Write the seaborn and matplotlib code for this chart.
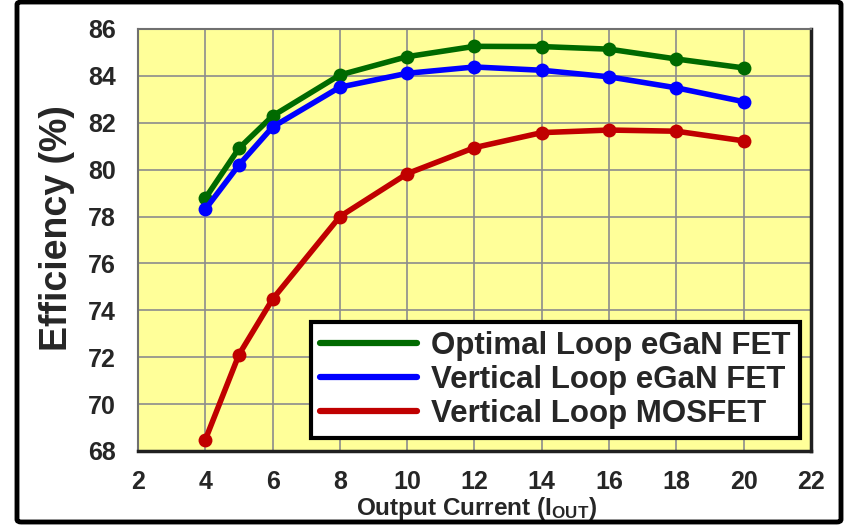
import numpy as np
import pandas as pd
import matplotlib
matplotlib.use("Agg")
import matplotlib.pyplot as plt
import seaborn as sns
from matplotlib.lines import Line2D
from matplotlib.patches import FancyBboxPatch

# ---- data ----
current = [4, 5, 6, 8, 10, 12, 14, 16, 18, 20]
optimal_egan = [78.78, 80.91, 82.29, 84.04, 84.82, 85.26, 85.25, 85.14, 84.72, 84.34]
vertical_egan = [78.31, 80.20, 81.82, 83.52, 84.11, 84.38, 84.24, 83.96, 83.49, 82.90]
vertical_mosfet = [68.48, 72.11, 74.48, 78.00, 79.83, 80.94, 81.58, 81.69, 81.64, 81.23]
series_names = ["Optimal Loop eGaN FET", "Vertical Loop eGaN FET", "Vertical Loop MOSFET"]
colors = ["#006A00", "#0000FF", "#C00000"]
x_ticks = [2, 4, 6, 8, 10, 12, 14, 16, 18, 20, 22]
y_ticks = [68, 70, 72, 74, 76, 78, 80, 82, 84, 86]

df = pd.DataFrame({
    "current": current * 3,
    "eff": optimal_egan + vertical_egan + vertical_mosfet,
    "series": [series_names[0]] * len(current) + [series_names[1]] * len(current)
              + [series_names[2]] * len(current),
})

sns.set_theme(style="white")
plt.rcParams["font.family"] = ["Liberation Sans", "DejaVu Sans"]
plt.rcParams["font.weight"] = "bold"
plt.rcParams["mathtext.fontset"] = "custom"
plt.rcParams["mathtext.rm"] = "Liberation Sans:bold"
plt.rcParams["mathtext.bf"] = "Liberation Sans:bold"
plt.rcParams["mathtext.it"] = "Liberation Sans:bold"

fig = plt.figure(figsize=(8.48, 5.26), dpi=100)
fig.patch.set_facecolor("white")
ax = fig.add_axes([138 / 848, 1 - 451 / 526, (811 - 138) / 848, (451 - 29) / 526])
ax.set_facecolor("#FFFF99")

sns.lineplot(data=df, x="current", y="eff", hue="series", palette=colors,
             hue_order=series_names, marker="o", markersize=10, markeredgewidth=0,
             linewidth=4, legend=False, ax=ax, zorder=3)

ax.set_xlim(2, 22)
ax.set_ylim(68, 86)
ax.set_xticks(x_ticks)
ax.set_yticks(y_ticks)
ax.grid(True, color="#8C8C8C", linewidth=1.2)
ax.set_axisbelow(True)
ax.tick_params(axis="y", length=0, labelsize=18, pad=16)
ax.tick_params(axis="x", length=0, labelsize=18, pad=14)
for lab in ax.get_xticklabels() + ax.get_yticklabels():
    lab.set_fontweight("bold")
ax.set_xlabel("")
ax.set_ylabel("")
for s in ["left", "top"]:
    ax.spines[s].set_color("#707070")
    ax.spines[s].set_linewidth(1.5)
for s in ["right", "bottom"]:
    ax.spines[s].set_color("#202020")
    ax.spines[s].set_linewidth(2.5)

handles = [Line2D([0], [0], color=c, lw=4.5, solid_capstyle="round") for c in colors]
leg = ax.legend(handles, series_names, loc="lower right", bbox_to_anchor=(0.984, 0.031),
                borderaxespad=0, handlelength=3.1, labelspacing=0.12,
                handletextpad=0.45, borderpad=0.3, fancybox=False, framealpha=1,
                edgecolor="black", prop={"weight": "bold", "size": 22.5})
leg.get_frame().set_linewidth(3)
leg.set_zorder(5)

fig.text(57 / 848, 1 - 228 / 526, "Efficiency (%)", rotation=90, ha="center", va="center",
         fontsize=27, fontweight="bold")
fig.text(476 / 848, 1 - 509 / 526, r"Output Current (I$_{\mathrm{OUT}}$)", ha="center",
         va="center", fontsize=17.5, fontweight="bold")

border = FancyBboxPatch((17 / 848, 4 / 526), (841 - 17) / 848, (524 - 4) / 526,
                        boxstyle="round,pad=0,rounding_size=0.005", transform=fig.transFigure,
                        fill=False, edgecolor="black", linewidth=3.5, zorder=10)
fig.patches.append(border)

fig.savefig("out.png", dpi=100)
